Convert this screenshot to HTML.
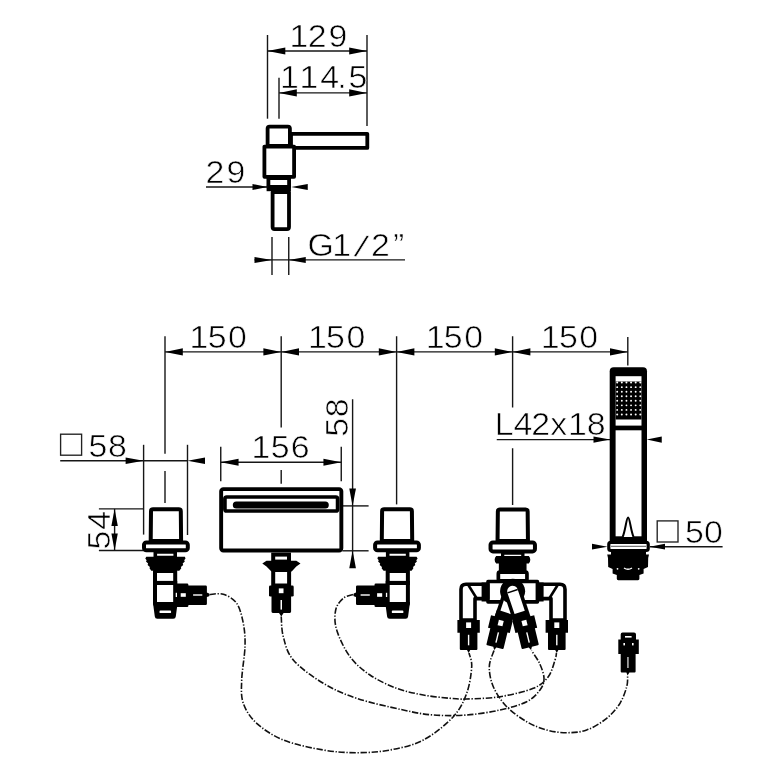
<!DOCTYPE html>
<html lang="en"><head><meta charset="utf-8"><title>Dimension drawing</title>
<style>
html,body{margin:0;padding:0;background:#fff;}
body{width:780px;height:780px;overflow:hidden;}
svg{display:block;will-change:transform;}
.t{font-family:"Liberation Sans",sans-serif;font-size:31.5px;fill:#000;stroke:#fff;stroke-width:0.6px;stroke-linejoin:round;}
</style></head><body>
<svg width="780" height="780" viewBox="0 0 780 780" shape-rendering="geometricPrecision">
<rect width="780" height="780" fill="#fff"/>
<g id="topview">
<line x1="267.50" y1="35.00" x2="267.50" y2="118.70" stroke="#161616" stroke-width="1.4" />
<line x1="367.00" y1="35.00" x2="367.00" y2="126.00" stroke="#161616" stroke-width="1.4" />
<line x1="279.00" y1="77.70" x2="279.00" y2="118.70" stroke="#161616" stroke-width="1.4" />
<line x1="267.50" y1="51.00" x2="367.00" y2="51.00" stroke="#161616" stroke-width="1.4" />
<polygon points="267.50,51.00 285.30,47.45 285.30,54.55" fill="#000"/>
<polygon points="367.00,51.00 349.20,54.55 349.20,47.45" fill="#000"/>
<line x1="279.00" y1="92.90" x2="367.00" y2="92.90" stroke="#161616" stroke-width="1.4" />
<polygon points="279.00,92.90 296.80,89.35 296.80,96.45" fill="#000"/>
<polygon points="367.00,92.90 349.20,96.45 349.20,89.35" fill="#000"/>
<text class="t" transform="translate(0,46.80) scale(1.075,1)" x="269.41 286.22 305.57" y="0">129</text>
<text class="t" transform="translate(0,88.30) scale(1.075,1)" x="260.57 278.71 297.95 313.81 324.20" y="0">114.5</text>
<g fill="#fff" stroke="#000" stroke-width="3.8" stroke-linejoin="round">
<rect x="291" y="133.8" width="76.3" height="14.1"/>
<path d="M267.6 146 V128.6 Q267.6 126.6 269.6 126.6 H287.9 Q289.9 126.6 289.9 128.6 V146 Z"/>
<rect x="264.4" y="146.6" width="29.7" height="30.2"/>
<rect x="268.4" y="178" width="20.7" height="9"/>
<path d="M272.6 192 H289 V227 Q289 229.1 287 229.1 H274.6 Q272.6 229.1 272.6 227 Z"/>
</g>
<rect x="266.6" y="185.8" width="24.3" height="5.4" fill="#000"/>
<line x1="206.00" y1="187.00" x2="267.50" y2="187.00" stroke="#161616" stroke-width="1.4" />
<polygon points="267.50,187.00 252.50,190.00 252.50,184.00" fill="#000"/>
<polygon points="291.25,187.00 307.75,184.00 307.75,190.00" fill="#000"/>
<text class="t" transform="translate(0,182.50) scale(1.075,1)" x="191.24 210.60" y="0">29</text>
<line x1="272.00" y1="237.00" x2="272.00" y2="275.00" stroke="#161616" stroke-width="1.4" />
<line x1="288.75" y1="237.00" x2="288.75" y2="275.00" stroke="#161616" stroke-width="1.4" />
<line x1="254.50" y1="259.90" x2="405.00" y2="259.90" stroke="#161616" stroke-width="1.4" />
<polygon points="272.00,259.90 254.50,262.90 254.50,256.90" fill="#000"/>
<polygon points="288.75,259.90 305.75,256.90 305.75,262.90" fill="#000"/>
<text class="t" transform="translate(0,255.80) scale(1.075,1)" x="285.95 309.13 329.09 345.19 365.59" y="0" rotate="0 0 15 0 0">G1/2”</text>
</g>
<g id="dims">
<line x1="165.00" y1="336.25" x2="165.00" y2="453.75" stroke="#161616" stroke-width="1.4" />
<line x1="165.00" y1="471.00" x2="165.00" y2="503.00" stroke="#161616" stroke-width="1.4" />
<line x1="281.20" y1="336.25" x2="281.20" y2="427.50" stroke="#161616" stroke-width="1.4" />
<line x1="281.20" y1="470.00" x2="281.20" y2="483.75" stroke="#161616" stroke-width="1.4" />
<line x1="396.60" y1="336.25" x2="396.60" y2="504.40" stroke="#161616" stroke-width="1.4" />
<line x1="512.60" y1="336.25" x2="512.60" y2="407.50" stroke="#161616" stroke-width="1.4" />
<line x1="512.60" y1="448.25" x2="512.60" y2="505.00" stroke="#161616" stroke-width="1.4" />
<line x1="627.80" y1="337.00" x2="627.80" y2="365.50" stroke="#161616" stroke-width="1.4" />
<line x1="165.00" y1="351.90" x2="627.80" y2="351.90" stroke="#161616" stroke-width="1.4" />
<polygon points="165.00,351.90 182.80,348.35 182.80,355.45" fill="#000"/>
<polygon points="281.20,351.90 263.40,355.45 263.40,348.35" fill="#000"/>
<polygon points="281.20,351.90 299.00,348.35 299.00,355.45" fill="#000"/>
<polygon points="396.60,351.90 378.80,355.45 378.80,348.35" fill="#000"/>
<polygon points="396.60,351.90 414.40,348.35 414.40,355.45" fill="#000"/>
<polygon points="512.60,351.90 494.80,355.45 494.80,348.35" fill="#000"/>
<polygon points="512.60,351.90 530.40,348.35 530.40,355.45" fill="#000"/>
<polygon points="627.80,351.90 610.00,355.45 610.00,348.35" fill="#000"/>
<text class="t" transform="translate(0,347.70) scale(1.075,1)" x="176.39 193.22 212.17" y="0">150</text>
<text class="t" transform="translate(0,347.70) scale(1.075,1)" x="286.53 303.36 322.31" y="0">150</text>
<text class="t" transform="translate(0,347.70) scale(1.075,1)" x="396.01 412.85 431.80" y="0">150</text>
<text class="t" transform="translate(0,347.70) scale(1.075,1)" x="503.08 519.92 538.87" y="0">150</text>
<rect x="60.6" y="434.2" width="21" height="21" fill="none" stroke="#222" stroke-width="1.35"/>
<text class="t" transform="translate(0,456.60) scale(1.075,1)" x="82.34 100.36" y="0">58</text>
<line x1="60.20" y1="460.80" x2="187.50" y2="460.80" stroke="#161616" stroke-width="1.4" />
<polygon points="143.60,460.80 125.60,464.00 125.60,457.60" fill="#000"/>
<polygon points="187.50,460.80 205.00,457.60 205.00,464.00" fill="#000"/>
<line x1="143.60" y1="444.80" x2="143.60" y2="534.60" stroke="#161616" stroke-width="1.4" />
<line x1="187.50" y1="444.80" x2="187.50" y2="535.00" stroke="#161616" stroke-width="1.4" />
<line x1="220.75" y1="446.75" x2="220.75" y2="481.25" stroke="#161616" stroke-width="1.4" />
<line x1="341.25" y1="446.75" x2="341.25" y2="481.25" stroke="#161616" stroke-width="1.4" />
<line x1="220.75" y1="462.30" x2="341.25" y2="462.30" stroke="#161616" stroke-width="1.4" />
<polygon points="220.75,462.30 238.55,458.75 238.55,465.85" fill="#000"/>
<polygon points="341.25,462.30 323.45,465.85 323.45,458.75" fill="#000"/>
<text class="t" transform="translate(0,457.90) scale(1.075,1)" x="234.06 251.88 270.44" y="0">156</text>
<line x1="352.60" y1="399.25" x2="352.60" y2="560.00" stroke="#161616" stroke-width="1.4" />
<polygon points="352.60,505.90 349.25,488.40 355.95,488.40" fill="#000"/>
<polygon points="352.60,550.80 355.95,568.30 349.25,568.30" fill="#000"/>
<line x1="341.30" y1="505.90" x2="368.60" y2="505.90" stroke="#161616" stroke-width="1.4" />
<line x1="342.30" y1="550.80" x2="368.60" y2="550.80" stroke="#161616" stroke-width="1.4" />
<text class="t" transform="translate(347.70,0) rotate(-90) scale(1.075,1)" x="-406.40 -388.20" y="0">58</text>
<text class="t" transform="translate(0,435.00) scale(1.075,1)" x="460.24 477.76 494.31 511.75 528.39 545.89" y="0">L42x18</text>
<line x1="496.75" y1="439.60" x2="610.00" y2="439.60" stroke="#161616" stroke-width="1.4" />
<polygon points="610.00,439.60 593.50,442.80 593.50,436.40" fill="#000"/>
<polygon points="646.75,439.60 661.75,436.40 661.75,442.80" fill="#000"/>
<line x1="98.90" y1="508.90" x2="144.00" y2="508.90" stroke="#161616" stroke-width="1.4" />
<line x1="98.90" y1="550.50" x2="144.00" y2="550.50" stroke="#161616" stroke-width="1.4" />
<line x1="114.60" y1="508.90" x2="114.60" y2="550.50" stroke="#161616" stroke-width="1.4" />
<polygon points="114.60,508.90 117.80,525.90 111.40,525.90" fill="#000"/>
<polygon points="114.60,550.50 111.40,533.50 117.80,533.50" fill="#000"/>
<text class="t" transform="translate(109.60,0) rotate(-90) scale(1.075,1)" x="-511.29 -492.85" y="0">54</text>
<rect x="657.2" y="520.9" width="20.8" height="21.1" fill="none" stroke="#222" stroke-width="1.35"/>
<text class="t" transform="translate(0,542.50) scale(1.075,1)" x="637.18 654.96" y="0">50</text>
<line x1="650.00" y1="546.70" x2="722.60" y2="546.70" stroke="#161616" stroke-width="1.4" />
<polygon points="607.50,546.70 592.00,549.60 592.00,543.80" fill="#000"/>
<polygon points="649.50,546.70 665.00,543.80 665.00,549.60" fill="#000"/>
</g>
<g transform="translate(165.9,0) scale(1,1)">
<g fill="#fff" stroke="#000" stroke-linejoin="round">
<path stroke-width="4" d="M-15.2 541 L-14.9 511.2 Q-14.9 509.2 -12.9 509.2 H12.9 Q14.9 509.2 14.9 511.2 L15.2 541 Z"/>
<rect stroke-width="4" x="-21.9" y="542.4" width="43.8" height="7.9" rx="2.4"/>
<rect stroke-width="3.6" x="-10.6" y="552" width="19.9" height="5.6"/>
<rect stroke-width="4" x="-10.9" y="571" width="20.2" height="33"/>
</g>
<path fill="#000" d="M-19.6 556.8 H19 L19.6 558.6 L18.3 560.2 L18.9 561.6 L16.8 563.6 L17.3 565 L15 567 L15.4 568.2 L13.4 570.8 H-14.6 L-16.4 568.2 L-16 567 L-18.3 565 L-17.8 563.6 L-19.9 561.6 L-19.3 560.2 L-20.6 558.6 Z"/>
<rect fill="#000" x="-12.9" y="580.9" width="24.2" height="4.1"/>
<path fill="#000" d="M-12.9 601.9 H11.3 V606 L9.9 616.6 Q9.7 618.8 7.4 618.8 H-8.6 Q-10.9 618.8 -11.1 616.6 L-12.5 606 Z"/>
<rect fill="#fff" x="-6.4" y="610.5" width="11.6" height="2.6" rx="0.9"/>
<path fill="#000" d="M8 583.6 H21.2 Q22.5 583.6 22.5 584.9 V585.6 H39.8 Q41 585.6 41 586.8 V592.6 L43.2 593.4 Q44.2 594.8 43.2 596.2 L41 597 V603.8 Q41 605 39.8 605 H22.5 V605.7 Q22.5 607 21.2 607 H8 Z"/>
<rect fill="#fff" x="14.8" y="593.2" width="5.1" height="3.6"/>
<rect fill="#fff" x="9.8" y="592.8" width="1.3" height="4.2"/>
<rect fill="#fff" x="27.2" y="594.3" width="9.2" height="1.4"/>
</g>
<g transform="translate(397,0) scale(-1,1)">
<g fill="#fff" stroke="#000" stroke-linejoin="round">
<path stroke-width="4" d="M-15.2 541 L-14.9 511.2 Q-14.9 509.2 -12.9 509.2 H12.9 Q14.9 509.2 14.9 511.2 L15.2 541 Z"/>
<rect stroke-width="4" x="-21.9" y="542.4" width="43.8" height="7.9" rx="2.4"/>
<rect stroke-width="3.6" x="-10.6" y="552" width="19.9" height="5.6"/>
<rect stroke-width="4" x="-10.9" y="571" width="20.2" height="33"/>
</g>
<path fill="#000" d="M-19.6 556.8 H19 L19.6 558.6 L18.3 560.2 L18.9 561.6 L16.8 563.6 L17.3 565 L15 567 L15.4 568.2 L13.4 570.8 H-14.6 L-16.4 568.2 L-16 567 L-18.3 565 L-17.8 563.6 L-19.9 561.6 L-19.3 560.2 L-20.6 558.6 Z"/>
<rect fill="#000" x="-12.9" y="580.9" width="24.2" height="4.1"/>
<path fill="#000" d="M-12.9 601.9 H11.3 V606 L9.9 616.6 Q9.7 618.8 7.4 618.8 H-8.6 Q-10.9 618.8 -11.1 616.6 L-12.5 606 Z"/>
<rect fill="#fff" x="-6.4" y="610.5" width="11.6" height="2.6" rx="0.9"/>
<path fill="#000" d="M8 583.6 H21.2 Q22.5 583.6 22.5 584.9 V585.6 H39.8 Q41 585.6 41 586.8 V592.6 L43.2 593.4 Q44.2 594.8 43.2 596.2 L41 597 V603.8 Q41 605 39.8 605 H22.5 V605.7 Q22.5 607 21.2 607 H8 Z"/>
<rect fill="#fff" x="14.8" y="593.2" width="5.1" height="3.6"/>
<rect fill="#fff" x="9.8" y="592.8" width="1.3" height="4.2"/>
<rect fill="#fff" x="27.2" y="594.3" width="9.2" height="1.4"/>
</g>
<g id="spout">
<rect x="221.15" y="489.15" width="120.2" height="61.4" rx="2.2" fill="#fff" stroke="#000" stroke-width="3.9"/>
<rect x="224.9" y="497.0" width="112.7" height="14.0" rx="1.8" fill="#fff" stroke="#000" stroke-width="3.7"/>
<rect x="232.8" y="501.5" width="96" height="7.0" rx="3.5" fill="#000"/>
<rect x="273.2" y="554.6" width="15.8" height="7" fill="#fff" stroke="#000" stroke-width="4"/>
<path fill="#000" d="M262.3 563.6 L266.5 560.8 H296.3 L300.5 563.6 L296.3 566.4 L291.7 571.6 H271.4 L266.5 566.4 Z"/>
<rect x="273.2" y="570" width="15.9" height="15.5" fill="#fff" stroke="#000" stroke-width="4"/>
<rect x="269" y="585.6" width="24.7" height="11" rx="1.4" fill="#000"/>
<path fill="#000" d="M271.5 596 H291.1 V611.6 Q291.1 612.9 289.8 612.9 H283.6 L281.3 616.6 L279 612.9 H272.8 Q271.5 612.9 271.5 611.6 Z"/>
<rect x="278.8" y="588.4" width="4.7" height="4.8" fill="#fff"/>
<rect x="280.5" y="600" width="1.5" height="9.6" fill="#fff"/>
</g>
<g id="diverter">
<g transform="translate(512.75,0)">
<g fill="#fff" stroke="#000" stroke-linejoin="round">
<path stroke-width="4" d="M-15.2 541 L-14.9 511.5 Q-14.9 509.5 -12.9 509.5 H12.9 Q14.9 509.5 14.9 511.5 L15.2 541 Z"/>
<rect stroke-width="4" x="-22.2" y="542.4" width="44.4" height="9.0" rx="2.4"/>
<rect stroke-width="3.3" x="-10.1" y="553" width="20.2" height="5"/>
</g>
<path fill="#000" d="M-16.6 556 Q-19.6 559.7 -16.6 563.5 H-13.9 V572.4 H13.8 V563.5 H16.1 Q19 559.7 16.1 556 Z"/>
<rect x="-14.4" y="572.2" width="28.6" height="8.6" rx="1.5" fill="#fff" stroke="#000" stroke-width="3.7"/>
</g>
<path fill="#fff" stroke="#000" stroke-width="3.6" stroke-linejoin="round" d="M488 581.5 H537.4 V601.9 H488 Z"/>
<path fill="#fff" stroke="#000" stroke-width="3.6" stroke-linejoin="round" d="M487.6 584.2 H466 Q461 584.2 461 589.2 V620 H475 V598.6 H487.6 Z"/>
<path fill="#fff" stroke="#000" stroke-width="3.6" stroke-linejoin="round" d="M538.3 584.2 H560 Q565 584.2 565 589.2 V620 H551 V598.6 H538.3 Z"/>
<rect x="481.6" y="582.5" width="6.4" height="19" fill="#000"/>
<rect x="537.4" y="582.5" width="6.2" height="19" fill="#000"/>
<line x1="468.60" y1="585.50" x2="476.30" y2="597.80" stroke="#000" stroke-width="2.6" />
<line x1="557.40" y1="585.50" x2="549.70" y2="597.80" stroke="#000" stroke-width="2.6" />
<g transform="translate(468.6,620)">
<path fill="#000" d="M-11.2 0 H11.2 V12.8 H8.8 V29 Q8.8 30 7.8 30 H1.6 L0 33 L-1.6 30 H-7.8 Q-8.8 30 -8.8 29 V12.8 H-11.2 Z"/>
<rect x="-2.5" y="2.4" width="5" height="5.6" fill="#fff"/>
<rect x="-0.7" y="14.8" width="1.4" height="10.5" fill="#fff"/>
</g>
<g transform="translate(556.8,620)">
<path fill="#000" d="M-11.2 0 H11.2 V12.8 H8.8 V29 Q8.8 30 7.8 30 H1.6 L0 33 L-1.6 30 H-7.8 Q-8.8 30 -8.8 29 V12.8 H-11.2 Z"/>
<rect x="-2.5" y="2.4" width="5" height="5.6" fill="#fff"/>
<rect x="-0.7" y="14.8" width="1.4" height="10.5" fill="#fff"/>
</g>
<g transform="translate(512.6,591.2) rotate(18.5)">
<rect x="-7.2" y="4" width="14.4" height="26" fill="#fff" stroke="#000" stroke-width="3.6"/>
<rect x="-9" y="22.3" width="18" height="9" fill="#000"/>
</g>
<g transform="translate(501.9,618) rotate(13.6)">
<path fill="#000" d="M-11.2 0 H11.2 V12.8 H8.8 V29 Q8.8 30 7.8 30 H1.6 L0 33 L-1.6 30 H-7.8 Q-8.8 30 -8.8 29 V12.8 H-11.2 Z"/>
<rect x="-2.5" y="2.4" width="5" height="5.6" fill="#fff"/>
<rect x="-0.7" y="14.8" width="1.4" height="10.5" fill="#fff"/>
</g>
<g transform="translate(512.6,591.2) rotate(-18.5)">
<rect x="-9" y="0" width="18" height="31" fill="#000"/>
<circle cx="0" cy="0" r="12.5" fill="#000"/>
<path d="M-5.4 22.3 V0 A5.4 5.4 0 0 1 5.4 0 V22.3 Z" fill="#fff"/>
<rect x="-5.4" y="-0.8" width="10.8" height="1.5" fill="#000"/>
</g>
<g transform="translate(523.3,618) rotate(-13.6)">
<path fill="#000" d="M-11.2 0 H11.2 V12.8 H8.8 V29 Q8.8 30 7.8 30 H1.6 L0 33 L-1.6 30 H-7.8 Q-8.8 30 -8.8 29 V12.8 H-11.2 Z"/>
<rect x="-2.5" y="2.4" width="5" height="5.6" fill="#fff"/>
<rect x="-0.7" y="14.8" width="1.4" height="10.5" fill="#fff"/>
</g>
</g>
<g id="shower">
<path fill="#000" d="M609.7 543 V371.2 Q609.7 367.2 613.7 367.2 H643 Q647 367.2 647 371.2 V543 Z"/>
<rect x="615.6" y="376.2" width="25.9" height="49.4" fill="#fff"/>
<rect x="615.6" y="430.3" width="25.9" height="106" fill="#fff"/>
<rect x="615.6" y="381.5" width="25.9" height="38" fill="#000"/>
<circle cx="617.20" cy="382.60" r="1.0" fill="#fff"/>
<circle cx="621.82" cy="382.60" r="1.0" fill="#fff"/>
<circle cx="626.44" cy="382.60" r="1.0" fill="#fff"/>
<circle cx="631.06" cy="382.60" r="1.0" fill="#fff"/>
<circle cx="635.68" cy="382.60" r="1.0" fill="#fff"/>
<circle cx="640.30" cy="382.60" r="1.0" fill="#fff"/>
<circle cx="617.20" cy="387.15" r="0.95" fill="#fff"/>
<circle cx="621.82" cy="387.15" r="0.95" fill="#fff"/>
<circle cx="626.44" cy="387.15" r="0.95" fill="#fff"/>
<circle cx="631.06" cy="387.15" r="0.95" fill="#fff"/>
<circle cx="635.68" cy="387.15" r="0.95" fill="#fff"/>
<circle cx="640.30" cy="387.15" r="0.95" fill="#fff"/>
<circle cx="617.20" cy="391.70" r="0.95" fill="#fff"/>
<circle cx="621.82" cy="391.70" r="0.95" fill="#fff"/>
<circle cx="626.44" cy="391.70" r="0.95" fill="#fff"/>
<circle cx="631.06" cy="391.70" r="0.95" fill="#fff"/>
<circle cx="635.68" cy="391.70" r="0.95" fill="#fff"/>
<circle cx="640.30" cy="391.70" r="0.95" fill="#fff"/>
<circle cx="617.20" cy="396.25" r="0.95" fill="#fff"/>
<circle cx="621.82" cy="396.25" r="0.95" fill="#fff"/>
<circle cx="626.44" cy="396.25" r="0.95" fill="#fff"/>
<circle cx="631.06" cy="396.25" r="0.95" fill="#fff"/>
<circle cx="635.68" cy="396.25" r="0.95" fill="#fff"/>
<circle cx="640.30" cy="396.25" r="0.95" fill="#fff"/>
<circle cx="617.20" cy="400.80" r="0.95" fill="#fff"/>
<circle cx="621.82" cy="400.80" r="0.95" fill="#fff"/>
<circle cx="626.44" cy="400.80" r="0.95" fill="#fff"/>
<circle cx="631.06" cy="400.80" r="0.95" fill="#fff"/>
<circle cx="635.68" cy="400.80" r="0.95" fill="#fff"/>
<circle cx="640.30" cy="400.80" r="0.95" fill="#fff"/>
<circle cx="617.20" cy="405.35" r="0.95" fill="#fff"/>
<circle cx="621.82" cy="405.35" r="0.95" fill="#fff"/>
<circle cx="626.44" cy="405.35" r="0.95" fill="#fff"/>
<circle cx="631.06" cy="405.35" r="0.95" fill="#fff"/>
<circle cx="635.68" cy="405.35" r="0.95" fill="#fff"/>
<circle cx="640.30" cy="405.35" r="0.95" fill="#fff"/>
<circle cx="617.20" cy="409.90" r="0.95" fill="#fff"/>
<circle cx="621.82" cy="409.90" r="0.95" fill="#fff"/>
<circle cx="626.44" cy="409.90" r="0.95" fill="#fff"/>
<circle cx="631.06" cy="409.90" r="0.95" fill="#fff"/>
<circle cx="635.68" cy="409.90" r="0.95" fill="#fff"/>
<circle cx="640.30" cy="409.90" r="0.95" fill="#fff"/>
<circle cx="617.20" cy="414.45" r="1.0" fill="#fff"/>
<circle cx="621.82" cy="414.45" r="1.0" fill="#fff"/>
<circle cx="626.44" cy="414.45" r="1.0" fill="#fff"/>
<circle cx="631.06" cy="414.45" r="1.0" fill="#fff"/>
<circle cx="635.68" cy="414.45" r="1.0" fill="#fff"/>
<circle cx="640.30" cy="414.45" r="1.0" fill="#fff"/>
<path d="M622.6 537 C625.4 531 626.4 517.6 628.1 517.6 C629.8 517.6 630.8 531 633.6 537" fill="#fff" stroke="#000" stroke-width="2"/>
<rect x="608.8" y="542.3" width="39.4" height="8.2" rx="2" fill="#fff" stroke="#000" stroke-width="3.2"/>
<line x1="611.00" y1="546.40" x2="646.00" y2="546.40" stroke="#777" stroke-width="1.3" />
<path fill="#000" d="M611 551 H646 V554.6 H649 L648.2 558 L648 567 L643.6 569 V573.5 L639.4 575 V578.8 Q639.4 580.2 638 580.2 H618.2 Q616.8 580.2 616.8 578.8 V575 L612.6 573.5 V569 L608.2 567 L608 558 L607.2 554.6 H611 Z"/>
<path d="M624 568 Q628 570.6 632 568" stroke="#fff" stroke-width="1.4" fill="none"/>
<circle cx="617.5" cy="568.8" r="0.9" fill="#fff"/><circle cx="638.7" cy="568.8" r="0.9" fill="#fff"/>
<path fill="#000" d="M622.5 632.5 H634 Q636 632.5 636 634.5 V639.6 H638.8 V654 H635.6 V671.4 Q635.6 672.4 634.6 672.4 H629.4 L627.6 675.6 L626.4 672.4 H621.7 Q620.7 672.4 620.7 671.4 V654 H618.3 V639.6 H620.7 V634.5 Q620.7 632.5 622.5 632.5 Z"/>
<rect x="625" y="636" width="6.6" height="1.6" fill="#fff"/>
<rect x="623.4" y="643" width="1.6" height="2.4" fill="#fff"/><rect x="632" y="643" width="1.6" height="2.4" fill="#fff"/>
<rect x="627.4" y="657" width="1.1" height="11" fill="#fff"/>
</g>
<path d="M209.5 594.5 C211.8 594.5 218.8 592.8 223.3 594.3 C227.8 595.8 233.4 598.5 236.7 603.3 C240.0 608.1 241.9 616.1 243.3 623.3 C244.7 630.5 245.3 637.2 245.0 646.7 C244.7 656.2 242.0 670.6 241.7 680.0 C241.4 689.4 240.8 696.1 243.3 703.3 C245.8 710.5 250.0 717.2 256.7 723.3 C263.4 729.4 272.2 735.5 283.3 740.0 C294.4 744.5 311.1 747.9 323.3 750.0 C335.5 752.1 345.6 752.7 356.7 752.7 C367.8 752.7 378.9 752.1 390.0 750.0 C401.1 747.9 412.8 745.5 423.3 740.0 C433.9 734.5 446.1 724.5 453.3 716.7 C460.5 708.9 463.6 701.6 466.7 693.3 C469.8 685.0 471.3 673.4 471.7 666.7 C472.1 660.0 469.4 655.3 469.0 653.0" fill="none" stroke="#111" stroke-width="1.6" stroke-dasharray="6.4 1.7 1.3 1.7"/>
<path d="M281.2 616.5 C281.6 619.9 281.3 629.5 283.3 636.7 C285.3 644.0 286.6 652.2 293.3 660.0 C300.0 667.8 312.7 676.9 323.3 683.3 C333.9 689.7 343.4 693.8 356.7 698.3 C370.0 702.8 390.5 707.2 403.3 710.0 C416.1 712.8 422.7 714.2 433.3 715.0 C443.9 715.8 455.6 715.8 466.7 715.0 C477.8 714.2 490.0 712.2 500.0 710.0 C510.0 707.8 520.0 705.0 526.7 701.7 C533.4 698.4 537.1 693.9 540.0 690.0 C542.9 686.1 544.1 682.8 544.0 678.3 C543.9 673.8 541.6 667.9 539.5 663.3 C537.4 658.7 532.8 652.7 531.5 650.6" fill="none" stroke="#111" stroke-width="1.6" stroke-dasharray="6.4 1.7 1.3 1.7"/>
<path d="M353.0 594.5 C351.4 595.1 346.2 595.7 343.3 598.3 C340.4 600.9 336.8 604.7 335.7 610.0 C334.6 615.3 334.3 622.2 336.7 630.0 C339.1 637.8 344.4 649.2 350.0 656.7 C355.6 664.2 362.2 669.7 370.0 675.0 C377.8 680.3 387.8 685.0 396.7 688.3 C405.6 691.6 414.4 693.3 423.3 695.0 C432.2 696.7 442.8 697.6 450.0 698.3 C457.2 699.0 458.4 699.3 466.7 699.0 C475.0 698.7 488.9 698.5 500.0 696.7 C511.1 694.9 525.2 691.6 533.3 688.3 C541.3 685.0 544.7 681.4 548.3 676.7 C551.9 672.0 553.6 664.0 555.0 660.0 C556.4 656.0 556.2 654.2 556.5 653.0" fill="none" stroke="#111" stroke-width="1.6" stroke-dasharray="6.4 1.7 1.3 1.7"/>
<path d="M494.0 650.6 C493.2 653.3 489.4 660.7 489.3 666.7 C489.2 672.7 490.4 680.0 493.3 686.7 C496.2 693.4 501.1 700.9 506.7 706.7 C512.3 712.5 520.0 717.8 526.7 721.7 C533.4 725.6 540.0 728.2 546.7 730.0 C553.4 731.8 560.0 732.7 566.7 732.7 C573.4 732.7 580.0 732.4 586.7 730.0 C593.4 727.6 601.2 722.8 606.7 718.3 C612.2 713.8 616.7 708.6 620.0 703.3 C623.3 698.0 625.4 691.3 626.7 686.7 C628.0 682.1 627.5 677.5 627.6 675.6" fill="none" stroke="#111" stroke-width="1.6" stroke-dasharray="6.4 1.7 1.3 1.7"/>
</svg>
</body></html>
